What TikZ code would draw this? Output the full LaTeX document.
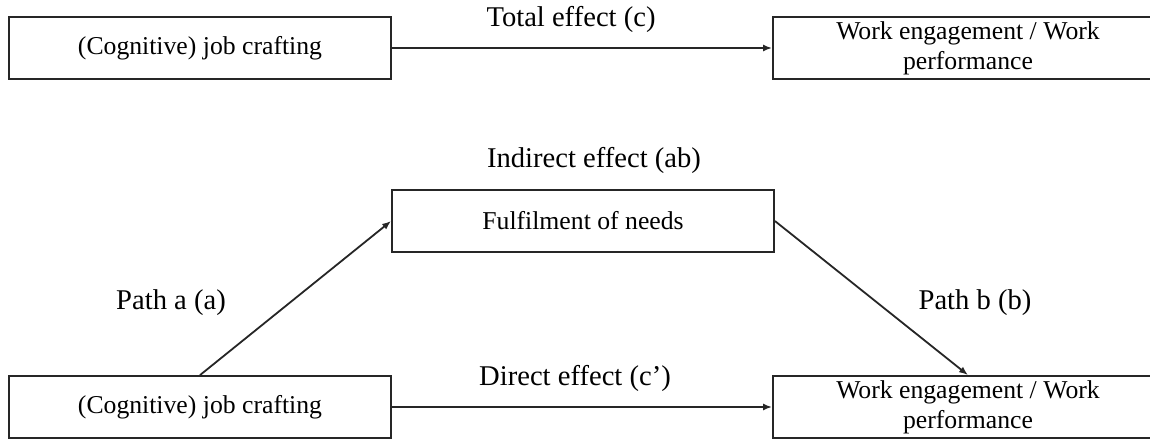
\documentclass[tikz,border=0pt]{standalone}
\usepackage{fontspec}
\setmainfont{Liberation Serif}
\usetikzlibrary{arrows.meta}
\begin{document}
\begin{tikzpicture}[x=1pt,y=-1pt,
  box/.style={draw=black!85, line width=1.8pt, minimum width=382pt, minimum height=62pt, inner sep=0pt, align=center, font=\fontsize{25.7}{30}\selectfont},
  wbox/.style={box, minimum width=390pt},
  lbl/.style={inner sep=0pt, font=\fontsize{28.6}{32}\selectfont},
  arr/.style={draw=black!85, line width=1.8pt, -{Latex[length=9pt,width=7pt]}}]
\useasboundingbox (0,0) rectangle (1150,439);
\clip (0,0) rectangle (1150,439);
\node[box] (tl) at (200,48) {(Cognitive) job crafting};
\node[wbox] (tr) at (968,48) {Work engagement / Work\\performance};
\node[box] (mid) at (583,221) {Fulfilment of needs};
\node[box] (bl) at (200,407) {(Cognitive) job crafting};
\node[wbox] (br) at (968,407) {Work engagement / Work\\performance};
\draw[arr] (tl) -- (tr);
\draw[arr] (bl.north) -- (mid.west);
\draw[arr] (mid.east) -- (br.north);
\draw[arr] (bl) -- (br);
\node[lbl] (ltot) at (571,19) {Total effect (c)};
\node[lbl] (lind) at (594,160) {Indirect effect (ab)};
\node[lbl] (ldir) at (575,378) {Direct effect (c’)};
\node[lbl] (lpa) at (171,303) {Path a (a)};
\node[lbl] (lpb) at (975,303) {Path b (b)};
\end{tikzpicture}
\end{document}
